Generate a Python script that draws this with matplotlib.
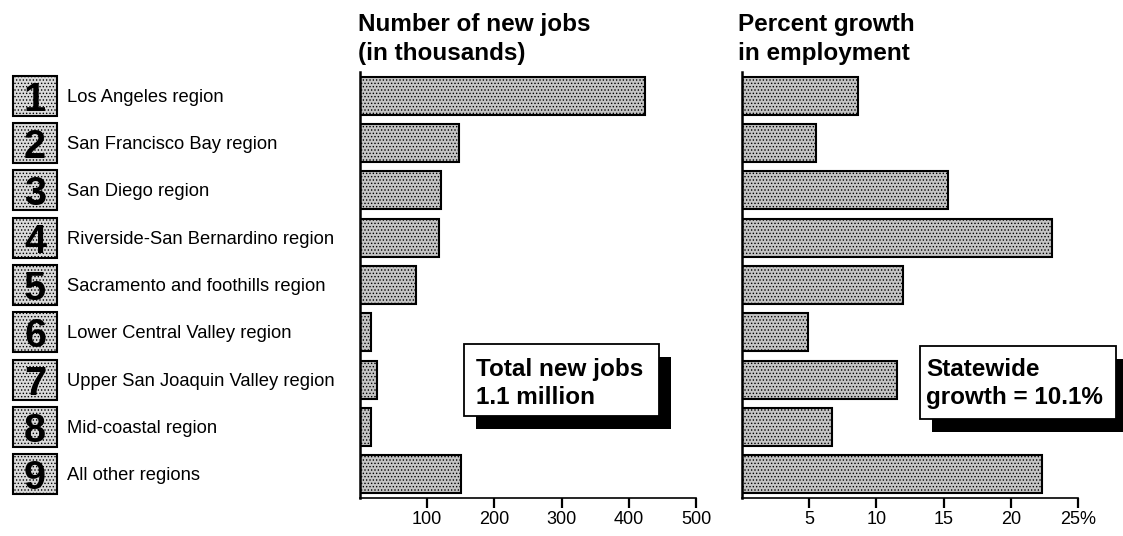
import matplotlib.pyplot as plt
from matplotlib.patches import Rectangle

plt.rcParams['font.family'] = ['Liberation Sans', 'DejaVu Sans']
plt.rcParams['hatch.linewidth'] = 0.6

regions = [
    "Los Angeles region",
    "San Francisco Bay region",
    "San Diego region",
    "Riverside-San Bernardino region",
    "Sacramento and foothills region",
    "Lower Central Valley region",
    "Upper San Joaquin Valley region",
    "Mid-coastal region",
    "All other regions",
]
region_numbers = ["1", "2", "3", "4", "5", "6", "7", "8", "9"]
new_jobs = [424, 147, 120, 118, 83, 17, 26, 16, 151]
pct_growth = [8.6, 5.5, 15.3, 23.1, 12.0, 4.9, 11.5, 6.7, 22.3]

jobs_ticks = [100, 200, 300, 400, 500]
jobs_ticklabels = ["100", "200", "300", "400", "500"]
pct_ticks = [5, 10, 15, 20, 25]
pct_ticklabels = ["5", "10", "15", "20", "25%"]

W, H = 1123, 536
fig = plt.figure(figsize=(W / 100, H / 100), dpi=100)


def fx(x):
    return x / W


def fy(y):
    return 1 - y / H


bottom, height = fy(498), (498 - 72) / H
ax_lab = fig.add_axes([0, bottom, 358 / W, height])
ax_jobs = fig.add_axes([fx(360), bottom, 336 / W, height])
ax_pct = fig.add_axes([fx(742), bottom, 336 / W, height])

rows = list(range(len(regions)))

# label column: shaded number boxes and region names
ax_lab.set_xlim(0, 358)
ax_lab.set_ylim(len(regions) - 0.5, -0.5)
ax_lab.axis("off")
for i, (num, name) in enumerate(zip(region_numbers, regions)):
    ax_lab.add_patch(Rectangle((13, i - 0.42), 44, 0.84, facecolor="#dadada",
                               edgecolor="black", linewidth=1.5, hatch="....."))
    ax_lab.text(35, i + 0.32, num, ha="center", va="baseline",
                fontsize=28.5, fontweight="bold")
    ax_lab.text(67, i + 0.13, name, ha="left", va="baseline", fontsize=13.2)


def style_axis(ax, ticks, ticklabels, xmax):
    ax.set_xlim(0, xmax)
    ax.set_ylim(len(regions) - 0.5, -0.5)
    ax.set_yticks([])
    ax.set_xticks(ticks)
    ax.set_xticklabels(ticklabels, fontsize=13)
    ax.tick_params(axis="x", direction="out", length=7, width=1.6, pad=2)
    for side in ("top", "right"):
        ax.spines[side].set_visible(False)
    ax.spines["left"].set_linewidth(1.8)
    ax.spines["bottom"].set_linewidth(1.2)
    ax.patch.set_alpha(0)


for ax, values in ((ax_jobs, new_jobs), (ax_pct, pct_growth)):
    ax.barh(rows, values, height=0.8, facecolor="#c4c4c4", edgecolor="black",
            linewidth=1.5, hatch=".....", zorder=2)

style_axis(ax_jobs, jobs_ticks, jobs_ticklabels, 500)
style_axis(ax_pct, pct_ticks, pct_ticklabels, 25)

# panel headings
title_kw = dict(fontsize=17.5, fontweight="bold", ha="left", va="baseline")
fig.text(fx(358), fy(31.5), "Number of new jobs", **title_kw)
fig.text(fx(358), fy(60), "(in thousands)", **title_kw)
fig.text(fx(738), fy(31.5), "Percent growth", **title_kw)
fig.text(fx(738), fy(60), "in employment", **title_kw)


def callout(x0, y0, x1, y1, lines, tx):
    """White box with a solid drop shadow, coordinates in pixels from top-left."""
    shadow = Rectangle((fx(x0 + 12), fy(y1 + 13)), (x1 - x0) / W, (y1 - y0) / H,
                       transform=fig.transFigure, facecolor="black",
                       edgecolor="none", zorder=5)
    box = Rectangle((fx(x0), fy(y1)), (x1 - x0) / W, (y1 - y0) / H,
                    transform=fig.transFigure, facecolor="white",
                    edgecolor="black", linewidth=1.3, zorder=6)
    fig.add_artist(shadow)
    fig.add_artist(box)
    for line, base in zip(lines, (376, 404)):
        fig.text(fx(tx), fy(base), line, fontsize=17.5, fontweight="bold",
                 ha="left", va="baseline", zorder=7)


callout(464, 344, 659, 416, ["Total new jobs", "1.1 million"], 476)
callout(920, 346, 1116, 419, ["Statewide", "growth = 10.1%"], 926)

fig.savefig("out.png", dpi=100)
